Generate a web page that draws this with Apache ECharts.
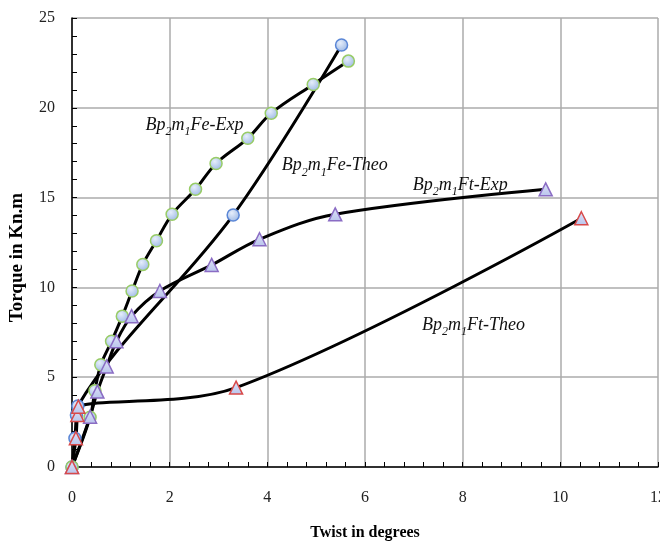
<!DOCTYPE html>
<html>
<head>
<meta charset="utf-8">
<script src="https://cdn.jsdelivr.net/npm/echarts@6/dist/echarts.min.js"></script>
<style>
  html, body { margin: 0; padding: 0; background: #fff; }
  #chart { width: 660px; height: 543px; }
</style>
</head>
<body>
<div id="chart"></div>
<script>
// values (twist in degrees, torque in kN.m)
const feExpX = [0, 0.37, 0.47, 0.59, 0.81, 1.03, 1.23, 1.45, 1.73, 2.05, 2.53, 2.95, 3.6, 4.08, 4.94, 5.66]
const feExpY = [0, 2.77, 4.25, 5.69, 7.0, 8.4, 9.8, 11.28, 12.6, 14.07, 15.46, 16.9, 18.3, 19.7, 21.3, 22.6]
const feTheoX = [0, 0.06, 0.09, 0.12, 3.3, 5.52]
const feTheoY = [0, 1.6, 2.9, 3.4, 14.03, 23.5]
const ftExpX = [0, 0.37, 0.52, 0.71, 0.91, 1.22, 1.8, 2.86, 3.84, 5.39, 9.7]
const ftExpY = [0, 2.8, 4.2, 5.6, 7.0, 8.4, 9.8, 11.25, 12.68, 14.07, 15.46]
const ftTheoX = [0, 0.08, 0.11, 0.13, 3.36, 10.43]
const ftTheoY = [0, 1.6, 2.9, 3.36, 4.42, 13.85]

// curve names and where their labels sit (data units)
const curveNames = ['Fe-Exp', 'Fe-Theo', 'Ft-Exp', 'Ft-Theo']
const labelAt = [[2.51, 19.15], [5.38, 16.9], [7.95, 15.8], [8.22, 8.03]]

const xTicks = [0, 2, 4, 6, 8, 10, 12]
const yTicks = [0, 5, 10, 15, 20, 25]

const zip = (xs, ys) => xs.map((x, i) => [x, ys[i]])

const serif = 'Liberation Serif'

const circleFill = {
  type: 'radial', x: 0.4, y: 0.35, r: 0.75,
  colorStops: [{ offset: 0, color: '#e6eefb' }, { offset: 1, color: '#94b2e2' }]
}
const triFill = {
  type: 'linear', x: 0, y: 0, x2: 0, y2: 1,
  colorStops: [{ offset: 0, color: '#dfe3f8' }, { offset: 1, color: '#b8c4ec' }]
}

function curveLabel(i) {
  return {
    symbolSize: 0,
    itemStyle: { color: 'rgba(0,0,0,0)' },
    silent: true,
    label: {
      show: true,
      position: 'inside',
      formatter: '{i|Bp}{s|2}{i|m}{s|1}{i|' + curveNames[i] + '}',
      rich: {
        i: { fontFamily: serif, fontStyle: 'italic', fontSize: 18, color: '#111', lineHeight: 22, verticalAlign: 'bottom' },
        s: { fontFamily: serif, fontStyle: 'italic', fontSize: 12, color: '#111', lineHeight: 22, verticalAlign: 'bottom', padding: [0, 0, -4, 0] }
      }
    },
    data: [{ coord: labelAt[i] }]
  }
}

function makeSeries(data, symbol, size, fill, border, idx) {
  return {
    type: 'line',
    data: data,
    smooth: 0.35,
    symbol: symbol,
    symbolSize: size,
    showAllSymbol: true,
    lineStyle: { color: '#000', width: 3 },
    itemStyle: { color: fill, borderColor: border, borderWidth: 1.5 },
    markPoint: curveLabel(idx),
    animation: false,
    z: 2
  }
}

const chart = echarts.init(document.getElementById('chart'))
chart.setOption({
  backgroundColor: '#fff',
  animation: false,
  grid: { left: 72, right: 2, top: 18, bottom: 76, outerBoundsMode: 'none' },
  xAxis: {
    type: 'value',
    min: xTicks[0],
    max: xTicks[xTicks.length - 1],
    interval: 2,
    name: 'Twist in degrees',
    nameLocation: 'middle',
    nameGap: 58,
    nameTextStyle: { fontFamily: serif, fontWeight: 'bold', fontSize: 16, color: '#000' },
    axisLine: { lineStyle: { color: '#000', width: 1.5 } },
    axisTick: { inside: true, length: 5, lineStyle: { color: '#000' } },
    minorTick: { show: true, splitNumber: 5, length: 5, lineStyle: { color: '#000' } },
    axisLabel: { margin: 23, fontFamily: serif, fontSize: 16, color: '#222' },
    splitLine: { show: true, lineStyle: { color: '#ababab', width: 1.5 } }
  },
  yAxis: {
    type: 'value',
    min: yTicks[0],
    max: yTicks[yTicks.length - 1],
    interval: 5,
    name: 'Torque in Kn.m',
    nameLocation: 'middle',
    nameGap: 45,
    nameTextStyle: { fontFamily: serif, fontWeight: 'bold', fontSize: 19, color: '#000', padding: [0, 30, 0, 0] },
    axisLine: { lineStyle: { color: '#000', width: 1.5 } },
    axisTick: { inside: true, length: 5, lineStyle: { color: '#000' } },
    minorTick: { show: true, splitNumber: 5, length: 5, lineStyle: { color: '#000' } },
    axisLabel: { margin: 17, fontFamily: serif, fontSize: 16, color: '#222' },
    splitLine: { show: true, lineStyle: { color: '#ababab', width: 1.5 } }
  },
  series: [
    makeSeries(zip(feTheoX, feTheoY), 'circle', 12, circleFill, '#5a86d6', 1),
    makeSeries(zip(feExpX, feExpY), 'circle', 12, circleFill, '#98cc66', 0),
    makeSeries(zip(ftExpX, ftExpY), 'triangle', 13, triFill, '#8a6cc4', 2),
    makeSeries(zip(ftTheoX, ftTheoY), 'triangle', 13, triFill, '#d84a4a', 3)
  ]
})
</script>
</body>
</html>
